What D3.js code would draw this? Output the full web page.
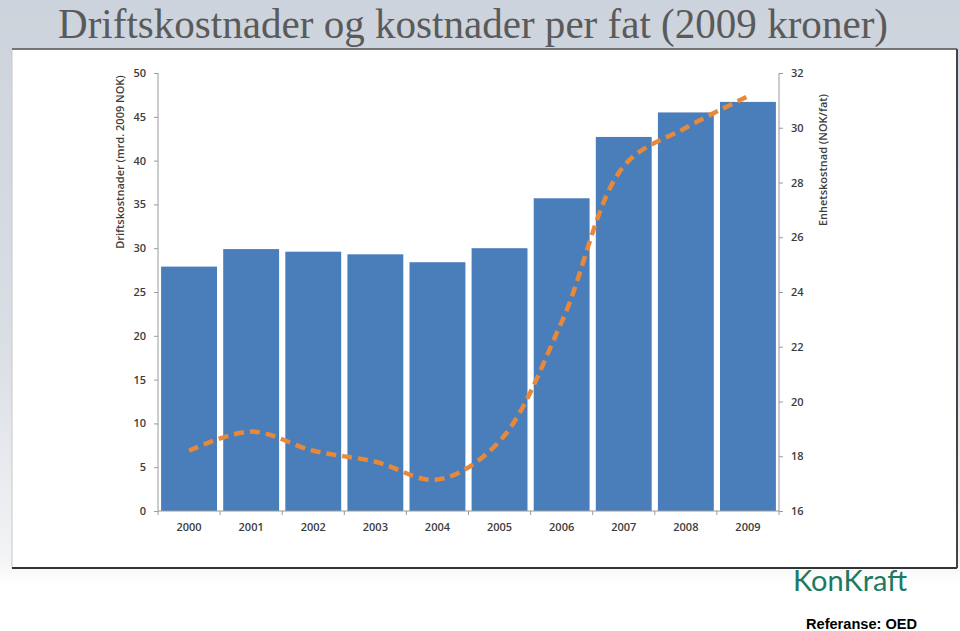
<!DOCTYPE html>
<html>
<head>
<meta charset="utf-8">
<script src="https://cdn.jsdelivr.net/npm/d3@7"></script>
<style>
  html, body { margin: 0; padding: 0; background: #fff; }
  svg { display: block; }
</style>
</head>
<body>
<svg id="chart" width="960" height="631"></svg>
<script>
// ---- Data ----
const years = ["2000","2001","2002","2003","2004","2005","2006","2007","2008","2009"];
const driftskostnader = [27.9, 29.9, 29.6, 29.3, 28.4, 30.0, 35.7, 42.7, 45.5, 46.7]; // mrd. 2009 NOK
const enhetskostnad = [18.2, 18.9, 18.2, 17.8, 17.15, 18.55, 22.9, 28.6, 30.0, 31.15]; // NOK/fat
const leftTicks = [0, 5, 10, 15, 20, 25, 30, 35, 40, 45, 50];
const rightTicks = [16, 18, 20, 22, 24, 26, 28, 30, 32];
const titleText = "Driftskostnader og kostnader per fat (2009 kroner)";
const leftAxisTitle = "Driftskostnader (mrd. 2009 NOK)";
const rightAxisTitle = "Enhetskostnad (NOK/fat)";

(function () {
const svg = d3.select("#chart");
const W = 960, H = 631;

// ---- Background ----
const defs = svg.append("defs");
const bg = defs.append("linearGradient").attr("id", "bg").attr("x1", 0).attr("y1", 0).attr("x2", 0).attr("y2", 1);
bg.append("stop").attr("offset", "0%").attr("stop-color", "#cdd3dc");
bg.append("stop").attr("offset", "55%").attr("stop-color", "#dadee5");
bg.append("stop").attr("offset", "88%").attr("stop-color", "#f2f3f5");
bg.append("stop").attr("offset", "93%").attr("stop-color", "#ffffff");
svg.append("rect").attr("width", W).attr("height", H).attr("fill", "url(#bg)");

// Title
svg.append("text")
  .attr("x", 58).attr("y", 38)
  .attr("font-family", "'Liberation Serif', 'DejaVu Serif', serif")
  .attr("font-size", 42)
  .attr("fill", "#5a5a5a")
  .attr("textLength", 830)
  .attr("lengthAdjust", "spacingAndGlyphs")
  .text(titleText);

// Frame
const fx = 12, fy = 49, fx2 = 957, fy2 = 568;
svg.append("rect").attr("x", fx).attr("y", fy).attr("width", fx2 - fx).attr("height", fy2 - fy)
  .attr("fill", "#ffffff").attr("stroke", "#c8c8c8").attr("stroke-width", 1);
svg.append("line").attr("x1", fx).attr("x2", fx2).attr("y1", fy).attr("y2", fy).attr("stroke", "#555").attr("stroke-width", 1.5);
svg.append("line").attr("x1", fx2).attr("x2", fx2).attr("y1", fy).attr("y2", fy2).attr("stroke", "#444").attr("stroke-width", 2);
svg.append("line").attr("x1", fx).attr("x2", fx2).attr("y1", fy2).attr("y2", fy2).attr("stroke", "#333").attr("stroke-width", 2);

// ---- Scales ----
const pLeft = 158, pRight = 779, pTop = 73, pBottom = 511;
const x = d3.scaleBand().domain(years).range([pLeft, pRight]).paddingInner(0.1).paddingOuter(0.05);
const yL = d3.scaleLinear().domain([0, 50]).range([pBottom, pTop]);
const yR = d3.scaleLinear().domain([16, 32]).range([pBottom, pTop]);

const axisFont = "'Open Sans', 'Lato', sans-serif";
const axisColor = "#9a9a9a";
const labelColor = "#3c3c3c";

// Bars
svg.append("g").selectAll("rect").data(years).join("rect")
  .attr("x", d => x(d))
  .attr("width", x.bandwidth())
  .attr("y", (d, i) => yL(driftskostnader[i]))
  .attr("height", (d, i) => pBottom - yL(driftskostnader[i]))
  .attr("fill", "#4a7ebb");

// Left axis
const gL = svg.append("g").attr("transform", `translate(${pLeft},0)`)
  .call(d3.axisLeft(yL).tickValues(leftTicks).tickSize(4).tickPadding(8));
// Right axis
const gR = svg.append("g").attr("transform", `translate(${pRight},0)`)
  .call(d3.axisRight(yR).tickValues(rightTicks).tickSize(4).tickPadding(8));
// Bottom axis
const gB = svg.append("g").attr("transform", `translate(0,${pBottom})`)
  .call(d3.axisBottom(x).tickSize(0).tickPadding(12));
// category separator ticks
const sepX = [pLeft].concat(years.map(d => x(d) + x.bandwidth() + x.step() * x.paddingInner() / 2));
sepX[sepX.length - 1] = pRight;
gB.selectAll("line.sep").data(sepX).join("line").attr("class", "sep")
  .attr("x1", d => d).attr("x2", d => d).attr("y1", 0).attr("y2", 4)
  .attr("stroke", axisColor);

[gL, gR, gB].forEach(g => {
  g.selectAll(".domain").attr("stroke", axisColor).attr("stroke-width", 1);
  g.selectAll(".tick line").attr("stroke", axisColor);
  g.selectAll("text").attr("font-family", axisFont).attr("font-size", 11)
    .attr("font-weight", 600).attr("fill", labelColor);
});
gB.select(".domain").attr("d", `M${pLeft},0H${pRight}`);
gL.select(".domain").attr("d", `M0,${pBottom}V${pTop}`);
gR.select(".domain").attr("d", `M0,${pBottom}V${pTop}`);

// Axis titles
svg.append("text")
  .attr("transform", `translate(124,162) rotate(-90)`)
  .attr("text-anchor", "middle")
  .attr("font-family", axisFont).attr("font-size", 11).attr("font-weight", 600)
  .attr("fill", labelColor)
  .text(leftAxisTitle);
svg.append("text")
  .attr("transform", `translate(827,160) rotate(-90)`)
  .attr("text-anchor", "middle")
  .attr("font-family", axisFont).attr("font-size", 11).attr("font-weight", 600)
  .attr("fill", labelColor)
  .text(rightAxisTitle);

// Line (unit cost, right axis)
const line = d3.line()
  .x((d, i) => x(years[i]) + x.bandwidth() / 2)
  .y(d => yR(d))
  .curve(d3.curveCatmullRom.alpha(0.5));
svg.append("path")
  .datum(enhetskostnad)
  .attr("d", line)
  .attr("fill", "none")
  .attr("stroke", "#e8893a")
  .attr("stroke-width", 4.5)
  .attr("stroke-dasharray", "10,6");

// Logo
svg.append("text")
  .attr("x", 793).attr("y", 591)
  .attr("font-family", "'Lato', 'Open Sans', sans-serif")
  .attr("font-size", 28)
  .attr("fill", "#1b7a60")
  .attr("textLength", 114)
  .attr("lengthAdjust", "spacingAndGlyphs")
  .text("KonKraft");

// Reference
svg.append("text")
  .attr("x", 806).attr("y", 629)
  .attr("font-family", "'Liberation Sans', Arial, sans-serif")
  .attr("font-size", 14.5)
  .attr("font-weight", "bold")
  .attr("fill", "#000")
  .attr("textLength", 111)
  .attr("lengthAdjust", "spacingAndGlyphs")
  .text("Referanse: OED");
})();
</script>
</body>
</html>
